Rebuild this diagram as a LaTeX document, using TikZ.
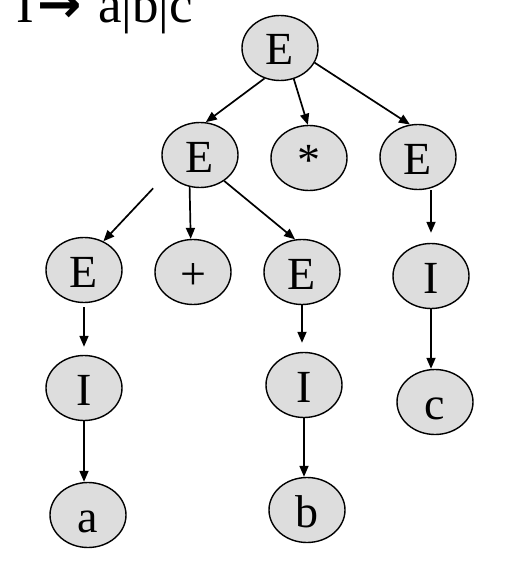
\documentclass[tikz,border=0pt]{standalone}
\usepackage{fontspec}
\setmainfont{Liberation Serif}
\newfontfamily\dvs{DejaVu Sans}
\usetikzlibrary{shapes.geometric,arrows.meta,calc}
\definecolor{nodegray}{RGB}{221,221,221}
\tikzset{
  tn/.style={ellipse, draw, line width=1.4bp, fill=nodegray,
    minimum width=76bp, minimum height=65bp, inner sep=0pt,
    font=\fontsize{46bp}{50bp}\selectfont, text height=34bp, text depth=0pt},
  arr/.style={line width=1.7bp, -{Triangle[length=11bp,width=9bp]}}
}
\begin{document}
\begin{tikzpicture}[x=1bp,y=-1bp]
\useasboundingbox (0,0) rectangle (520,572);
% rule text
\node[anchor=base west, inner sep=0pt, font=\fontsize{53bp}{60bp}\selectfont] (rule) at (16,23)
  {\rlap{I}\hspace{21bp}\rlap{\dvs\bfseries →}\hspace{61bp}a|b|c};
% nodes
\node[tn] (root) at (280,48) {E};
\node[tn] (E1) at (200,155) {E};
\node[tn] (star) at (309,158) {*};
\node[tn] (E2) at (418,157) {E};
\node[tn] (E11) at (84,270) {E};
\node[tn] (plus) at (193,272) {+};
\node[tn] (E13) at (302,272) {E};
\node[tn] (I21) at (431,276) {I};
\node[tn] (I11) at (84,388) {I};
\node[tn] (I13) at (304,385) {I};
\node[tn] (c) at (435,402) {c};
\node[tn] (a) at (88,515) {a};
\node[tn] (b) at (307,510) {b};
% connectors
\draw[arr] (root.243) -- (E1.80);
\draw[arr] (root.294) -- (star.92);
\draw[arr] (root.337) -- (E2.104);
\draw[arr, shorten <=21bp] (E1.209) -- (E11.56);
\draw[arr] (E1.252) -- (plus.94);
\draw[arr] (E1.313) -- (E13.102);
\draw[arr, shorten >=10bp] (I21.north |- E2.south) -- (I21.north);
\draw[arr, shorten <=4bp, shorten >=8bp] (E11.south) -- (E11.south |- I11.north);
\draw[arr, shorten >=9bp] (E13.south) -- (E13.south |- I13.north);
\draw[arr] (I11.south) -- (I11.south |- a.north);
\draw[arr] (I13.south) -- (I13.south |- b.north);
\draw[arr] (I21.south) -- (I21.south |- c.north);
\end{tikzpicture}
\end{document}
